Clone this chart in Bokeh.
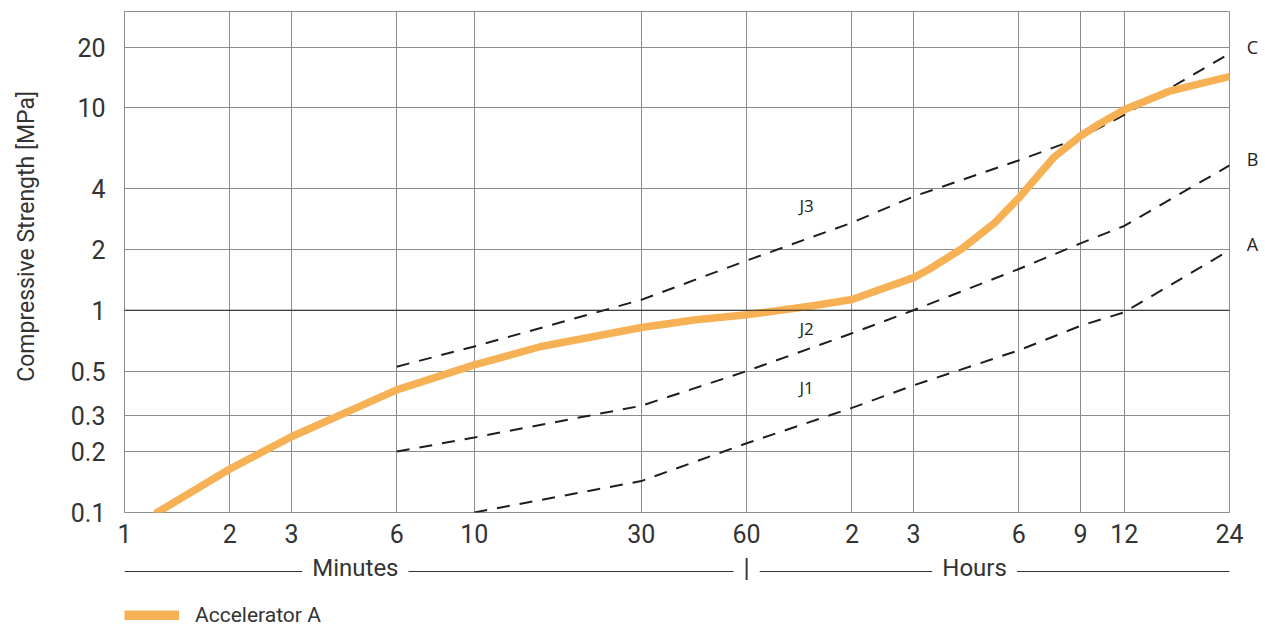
from bokeh.plotting import figure
from bokeh.models import (Range1d, FixedTicker, CustomJSTickFormatter, Span, Label,
                          Legend, LegendItem)
from bokeh.layouts import column, row
from bokeh.core.properties import value
from bokeh.embed import file_html
from bokeh.resources import INLINE

# ---------------- data ----------------
# time axis in minutes (1 min ... 24 h)
x_ticks = [1, 2, 3, 6, 10, 30, 60, 120, 180, 360, 540, 720, 1440]
x_tick_labels = ["1", "2", "3", "6", "10", "30", "60", "2", "3", "6", "9", "12", "24"]
y_ticks = [0.1, 0.2, 0.3, 0.5, 1, 2, 4, 10, 20]
y_tick_labels = ["0.1", "0.2", "0.3", "0.5", "1", "2", "4", "10", "20"]

accel_t = [1.24, 2, 3, 6, 10, 15.4, 30, 43, 60, 92, 120, 180, 200, 248, 307, 360,
           407, 454, 506, 540, 616, 720, 965, 1440]
accel_v = [0.1, 0.164, 0.237, 0.404, 0.537, 0.66, 0.822, 0.897, 0.95, 1.05, 1.13,
           1.45, 1.6, 2.02, 2.705, 3.59, 4.6, 5.72, 6.65, 7.27, 8.41, 9.8, 12.07, 14.3]

j3_t = [6, 10, 30, 60, 120, 180, 360, 540, 720, 1440]
j3_v = [0.526, 0.662, 1.126, 1.76, 2.71, 3.65, 5.51, 7.13, 9.24, 18.6]
j2_t = [6, 10, 30, 60, 120, 180, 360, 540, 720, 1440]
j2_v = [0.2, 0.235, 0.337, 0.5, 0.769, 1.0, 1.6, 2.14, 2.61, 5.2]
j1_t = [10, 30, 60, 120, 180, 360, 540, 720, 1440]
j1_v = [0.1, 0.143, 0.22, 0.329, 0.425, 0.634, 0.837, 0.977, 1.98]

zone_names = ["J3", "J2", "J1"]
zone_pos_t = [89, 89, 89]
zone_pos_v = [3.31, 0.815, 0.415]
class_names = ["C", "B", "A"]

series_name = "Accelerator A"

# ---------------- style ----------------
FONT = "Roboto"
FONT2 = "Open Sans"
TXT = "#333333"
GRID = "#8c8c8c"
ORANGE = "#F7B155"
W = 1245      # main plot width (frame 124..1229)
H = 553       # main plot height (frame 11..512)

p = figure(width=W, height=H, x_axis_type="log", y_axis_type="log",
           x_range=Range1d(x_ticks[0] * 0.99999, x_ticks[-1]),
           y_range=Range1d(y_ticks[0] * 0.9999, 30),
           output_backend="svg", toolbar_location=None,
           min_border_left=124, min_border_right=16, min_border_top=11,
           min_border_bottom=41)
p.outline_line_color = GRID
p.outline_line_width = 1
p.background_fill_color = "white"
p.border_fill_color = "white"

xt = FixedTicker(ticks=x_ticks, minor_ticks=[])
yt = FixedTicker(ticks=y_ticks, minor_ticks=[])
p.xaxis.ticker = xt
p.yaxis.ticker = yt
p.xgrid.ticker = xt
p.ygrid.ticker = yt
p.xaxis.formatter = CustomJSTickFormatter(
    args=dict(tv=x_ticks, tl=x_tick_labels),
    code="const i = tv.indexOf(tick); return i >= 0 ? tl[i] : '';")
p.yaxis.formatter = CustomJSTickFormatter(
    args=dict(tv=y_ticks, tl=y_tick_labels),
    code="const i = tv.indexOf(tick); return i >= 0 ? tl[i] : '';")

for ax in (p.xaxis, p.yaxis):
    ax.axis_line_color = None
    ax.major_tick_line_color = None
    ax.minor_tick_line_color = None
    ax.major_tick_out = 0
    ax.major_tick_in = 0
    ax.major_label_text_font = FONT
    ax.major_label_text_font_size = "25px"
    ax.major_label_text_color = TXT
p.xaxis.major_label_standoff = 11
p.yaxis.major_label_standoff = 19
p.yaxis.axis_label = "\u00a0" * 9 + "Compressive Strength [MPa]"
p.yaxis.axis_label_text_font = FONT
p.yaxis.axis_label_text_font_size = "23px"
p.yaxis.axis_label_text_font_style = "normal"
p.yaxis.axis_label_text_color = TXT
p.yaxis.axis_label_standoff = 28

p.xgrid.grid_line_color = GRID
p.ygrid.grid_line_color = GRID
p.xgrid.grid_line_width = 1
p.ygrid.grid_line_width = 1

p.add_layout(Span(location=1, dimension="width", line_color="#222222", line_width=1))

# dashed reference lines
for t, v in ((j3_t, j3_v), (j2_t, j2_v), (j1_t, j1_v)):
    p.line(t, v, line_color="#1e1e1e", line_width=2, line_dash="13 10")

# accelerator curve
p.line(accel_t, accel_v, line_color=ORANGE, line_width=7.5, line_cap="round",
       line_join="round")

# zone labels
for name, tx, vy in zip(zone_names, zone_pos_t, zone_pos_v):
    p.add_layout(Label(x=tx, y=vy, text=name, text_font=FONT2, text_font_size="17px",
                       text_color="#222222", text_align="center",
                       text_baseline="middle"))

# ---------------- right strip: class labels C / B / A ----------------
p3 = figure(width=20, height=H, y_axis_type="log", x_range=Range1d(0, 20),
            y_range=p.y_range, output_backend="svg", toolbar_location=None,
            min_border_left=0, min_border_right=0, min_border_top=11,
            min_border_bottom=41, x_axis_location=None, y_axis_location=None)
p3.outline_line_color = None
p3.xgrid.visible = False
p3.ygrid.visible = False
p3.text(x=[7, 7, 7], y=[j3_v[-1], j2_v[-1], j1_v[-1]], text=class_names,
        text_font=value(FONT2), text_font_size="18px", text_color="#222222",
        text_align="center", text_baseline="middle", y_offset=-6)

# ---------------- bottom strip: Minutes | Hours + legend ----------------
H2 = 76
p2 = figure(width=W, height=H2, x_axis_type="log", x_range=p.x_range,
            y_range=Range1d(H2, 0), output_backend="svg", toolbar_location=None,
            min_border_left=124, min_border_right=16, min_border_top=0,
            min_border_bottom=0, x_axis_location=None, y_axis_location=None)
p2.outline_line_color = None
p2.xgrid.visible = False
p2.ygrid.visible = False

p2.line([x_ticks[0], x_ticks[-1]], [18, 18], line_color="#333333", line_width=1)
p2.text(x=[4.57, 269], y=[14, 14], text=["Minutes", "Hours"],
        text_font=value(FONT), text_font_size="24px",
        text_color=TXT, text_align="center", text_baseline="middle",
        background_fill_color="white", padding=10)
p2.text(x=[60], y=[15], text=["|"],
        text_font=value(FONT), text_font_size="25px",
        text_color=TXT, text_align="center", text_baseline="middle",
        background_fill_color="white", padding=10)

r2 = p2.line(accel_t, accel_v, line_color=ORANGE, line_width=10, visible=False)
legend = Legend(items=[LegendItem(label=series_name, renderers=[r2])],
                location=(0, 2), glyph_width=55, glyph_height=10, label_standoff=16,
                padding=0, margin=0, spacing=0, border_line_color=None,
                background_fill_alpha=0, label_text_font=FONT,
                label_text_font_size="21px", label_text_color=TXT)
p2.add_layout(legend)

layout = column(row(p, p3, spacing=0), p2, spacing=0)
open("out.html", "w").write(file_html(layout, INLINE))
